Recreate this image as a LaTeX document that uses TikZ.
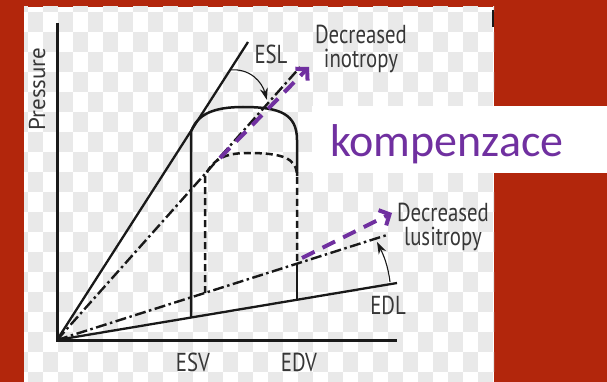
\documentclass[tikz,border=0pt]{standalone}
\usepackage{fontspec}
\setmainfont{PT Sans}
\newfontfamily\labfont[FakeStretch=0.8]{PT Sans}
\newfontfamily\presfont{PT Sans}
\newfontfamily\komfont{Carlito}
\usetikzlibrary{arrows.meta}
\definecolor{bgred}{RGB}{178,38,12}
\definecolor{purp}{RGB}{112,48,160}
\definecolor{ink}{RGB}{25,25,25}
\definecolor{txt}{RGB}{55,55,55}
\definecolor{chk}{RGB}{233,233,233}
\begin{document}
\begin{tikzpicture}[x=1pt,y=-1pt,
  lab/.style={text=txt,font=\labfont\fontsize{26}{26}\selectfont,inner sep=0pt,align=center},
  axisline/.style={draw=ink,line width=3pt},
  relline/.style={draw=ink,line width=2.3pt},
  loopline/.style={draw=ink,line width=2.5pt},
  dashloop/.style={draw=ink,line width=2.5pt,dash pattern=on 7pt off 4pt},
  dashdotline/.style={draw=ink,line width=2.4pt,dash pattern=on 11pt off 3.5pt on 2.5pt off 3.5pt},
  blackarrow/.style={draw=ink,line width=1.1pt,-{Stealth[length=12pt,width=8pt]}},
  purparrow/.style={draw=purp,line width=4pt,dash pattern=on 14pt off 9pt,-{Straight Barb[length=8pt,width=17pt]}}]
\useasboundingbox (0,0) rectangle (607,382);
\fill[bgred] (0,0) rectangle (607,382);
\fill[white] (24,7) rectangle (494,382);
\begin{scope}
\clip (24,7) rectangle (494,382);
\foreach \i in {0,2,...,32}{\foreach \j in {0,2,...,20}{
  \path[fill=chk] (13.3+\i*15,-8.3+\j*20) rectangle +(15,20);
  \path[fill=chk] (28.3+\i*15,11.7+\j*20) rectangle +(15,20);
}}
\end{scope}
\draw[ink,line width=2pt] (493,10) -- (493,27);
% coordinates
\coordinate (O) at (57,340);
\coordinate (ytop) at (57,23);
\coordinate (xend) at (397,340);
\coordinate (eslend) at (248,42);
\coordinate (edlend) at (397,283);
\coordinate (inoend) at (302,65);
\coordinate (lusend) at (387,235);
\coordinate (A) at (191,317.5);
\coordinate (B) at (191,132);
\coordinate (C) at (297,140);
\coordinate (C2) at (297,176);
\coordinate (D) at (297,300);
\coordinate (E) at (205,293);
\coordinate (F) at (205,176);
\coordinate (H) at (297,263);
% axes and relations
\draw[axisline] (ytop) -- (O) -- (xend);
\draw[relline] (O) -- (eslend);
\draw[relline] (O) -- (edlend);
\draw[dashdotline] (O) -- (inoend);
\draw[dashdotline] (O) -- (lusend);
% solid loop
\draw[loopline] (A) -- (B) .. controls (197,114) and (214,107) .. (243,107) .. controls (280,107) and (297,114) .. (C) -- (C2);
\draw[loopline] (H) -- (D);
% dashed loop
\draw[dashloop] (E) -- (F) .. controls (213,159) and (225,153) .. (248,153) .. controls (282,153) and (297,158) .. (C2) -- (H);
% labels
\node[text=txt,inner sep=0pt,rotate=90,font=\presfont\fontsize{23}{23}\selectfont] (pressure) at (37,89) {Pressure};
\node[lab] (esl) at (271,54) {ESL};
\node[lab] (edl) at (388,305) {EDL};
\node[lab] (esv) at (193,362) {ESV};
\node[lab] (edv) at (299,362) {EDV};
\node[lab,anchor=north] (ino) at (361,25) {Decreased\\[-2pt]inotropy};
\node[lab,anchor=north] (lus) at (443,203) {Decreased\\[-2pt]lusitropy};
% black arrows
\coordinate (eslarr) at (230,70);
\coordinate (inotip) at (267,100);
\draw[blackarrow] (eslarr) .. controls (250,68) and (262,82) .. (inotip);
\coordinate (edlarr) at (390,282);
\coordinate (lustip) at (377,242);
\draw[blackarrow] (edlarr) .. controls (388,266) and (384,256) .. (lustip);
% purple arrows
\coordinate (p1s) at (220,158);
\coordinate (p1e) at (309,67);
\coordinate (p2s) at (302,258);
\coordinate (p2e) at (392,213);
\draw[purparrow] (p1s) -- (p1e);
\draw[purparrow] (p2s) -- (p2e);
% kompenzace box
\fill[white] (312,106) rectangle (607,173);
\node[anchor=base west,inner sep=0pt,text=purp,font=\komfont\fontsize{46}{46}\selectfont] (komp) at (330,157) {kompenzace};
\end{tikzpicture}
\end{document}
